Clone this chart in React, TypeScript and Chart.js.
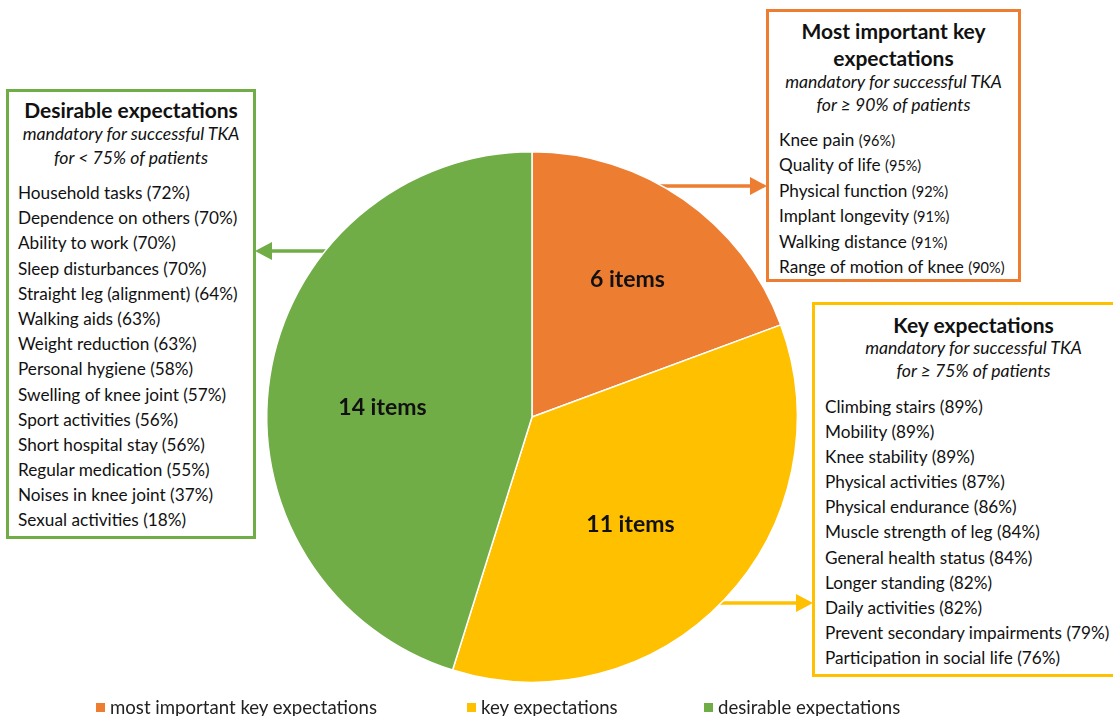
import React, { useEffect, useRef } from "react";
import { Chart, registerables } from "chart.js";

Chart.register(...registerables);

// ---------- data ----------
const categories = ["most important key expectations", "key expectations", "desirable expectations"];
const itemCounts = [6, 11, 14];
const sliceLabels = ["6 items", "11 items", "14 items"];
const sliceColors = ["#ED7D31", "#FFC000", "#70AD47"];

const mostImportantItems = ["Knee pain", "Quality of life", "Physical function", "Implant longevity", "Walking distance", "Range of motion of knee"];
const mostImportantPct = [96, 95, 92, 91, 91, 90];

const keyItems = ["Climbing stairs", "Mobility", "Knee stability", "Physical activities", "Physical endurance", "Muscle strength of leg", "General health status", "Longer standing", "Daily activities", "Prevent secondary impairments", "Participation in social life"];
const keyPct = [89, 89, 89, 87, 86, 84, 84, 82, 82, 79, 76];

const desirableItems = ["Household tasks", "Dependence on others ", "Ability to work", "Sleep disturbances ", "Straight leg (alignment)", "Walking aids", "Weight reduction", "Personal hygiene", "Swelling of knee joint", "Sport activities", "Short hospital stay", "Regular medication", "Noises in knee joint", "Sexual activities"];
const desirablePct = [72, 70, 70, 70, 64, 63, 63, 58, 57, 56, 56, 55, 37, 18];

// label placement (fraction of radius, angle tweak in degrees)
const labelRadiusFrac = [0.63, 0.55, 0.565];
const labelAngleShift = [0, 4, -5];

const FONT = "Lato, 'Open Sans', sans-serif";

const sliceLabelPlugin = {
  id: "sliceLabels",
  afterDatasetsDraw(chart: any) {
    const ctx = chart.ctx;
    const meta = chart.getDatasetMeta(0);
    ctx.save();
    ctx.font = `bold 23px ${FONT}`;
    ctx.fillStyle = "#111";
    ctx.textAlign = "center";
    ctx.textBaseline = "middle";
    meta.data.forEach((arc: any, i: number) => {
      const p = arc.getProps(["x", "y", "startAngle", "endAngle", "outerRadius"], true);
      const mid = (p.startAngle + p.endAngle) / 2 + (labelAngleShift[i] * Math.PI) / 180;
      const r = p.outerRadius * labelRadiusFrac[i];
      ctx.fillText(sliceLabels[i], p.x + Math.cos(mid) * r, p.y + Math.sin(mid) * r);
    });
    ctx.restore();
  },
};

type BoxProps = {
  left: number; top: number; width: number; height: number; color: string;
  title: string[]; sub: string[]; items: string[]; pct: number[];
  titleLH: number; subLH: number; gap: number; itemLH: number; padTop: number;
  padLeft: number; smallPct?: boolean; noRight?: boolean;
};

function Box(p: BoxProps) {
  return (
    <div
      style={{
        position: "absolute", left: p.left, top: p.top, width: p.width, height: p.height,
        boxSizing: "border-box", border: `3px solid ${p.color}`, borderRight: p.noRight ? "none" : `3px solid ${p.color}`,
        background: "#fff", fontFamily: FONT, color: "#111", paddingTop: p.padTop,
      }}
    >
      {p.title.map((t, i) => (
        <div key={"t" + i} style={{ textAlign: "center", fontWeight: "bold", fontSize: 21, lineHeight: p.titleLH + "px", whiteSpace: "nowrap" }}>{t}</div>
      ))}
      {p.sub.map((t, i) => (
        <div key={"s" + i} style={{ textAlign: "center", fontStyle: "italic", fontSize: 17.6, lineHeight: p.subLH + "px", whiteSpace: "nowrap" }}>{t}</div>
      ))}
      <div style={{ height: p.gap }} />
      {p.items.map((t, i) => (
        <div key={"i" + i} style={{ paddingLeft: p.padLeft, fontSize: 17.2, lineHeight: p.itemLH + "px", height: p.itemLH, whiteSpace: "nowrap" }}>
          {t}{" "}
          <span style={{ fontSize: p.smallPct ? 14.5 : 17.2, lineHeight: "1" }}>({p.pct[i]}%)</span>
        </div>
      ))}
    </div>
  );
}

export default function App() {
  const canvasRef = useRef<HTMLCanvasElement | null>(null);

  useEffect(() => {
    const c = canvasRef.current;
    if (!c) return;
    const chart = new Chart(c, {
      type: "pie",
      data: {
        labels: categories,
        datasets: [
          {
            data: itemCounts,
            backgroundColor: sliceColors,
            borderColor: "#ffffff",
            borderWidth: 1.5,
          },
        ],
      },
      options: {
        responsive: false,
        animation: false,
        devicePixelRatio: 1,
        layout: { padding: { left: 266, right: 315, top: 151, bottom: 33 } },
        plugins: { legend: { display: false }, tooltip: { enabled: false } },
      },
      plugins: [sliceLabelPlugin],
    });
    return () => chart.destroy();
  }, []);

  const arrowStroke = 3.5;

  return (
    <div style={{ position: "absolute", left: 0, top: 0, width: 1113, height: 716, overflow: "hidden", background: "#fff" }}>
      <svg width={1113} height={716} style={{ position: "absolute", left: 0, top: 0 }}>
        {/* green arrow (to left box) */}
        <line x1={340} y1={251} x2={268} y2={251} stroke="#70AD47" strokeWidth={arrowStroke} />
        <polygon points="255,251 272,242 272,260" fill="#70AD47" />
        {/* orange arrow */}
        <line x1={650} y1={186} x2={752} y2={186} stroke="#ED7D31" strokeWidth={arrowStroke} />
        <polygon points="767,186 750,177 750,195" fill="#ED7D31" />
        {/* yellow arrow */}
        <line x1={710} y1={603} x2={798} y2={603} stroke="#FFC000" strokeWidth={arrowStroke} />
        <polygon points="813,603 796,594 796,612" fill="#FFC000" />
      </svg>
      <canvas ref={canvasRef} width={1113} height={716} style={{ position: "absolute", left: 0, top: 0, width: 1113, height: 716 }} />

      <Box
        left={6} top={89} width={250} height={450} color="#70AD47"
        title={["Desirable expectations"]}
        sub={["mandatory for successful TKA", "for < 75% of patients"]}
        items={desirableItems} pct={desirablePct}
        titleLH={24} subLH={24} gap={10} itemLH={25.2} padTop={6} padLeft={9}
      />
      <Box
        left={766} top={9} width={255} height={273} color="#ED7D31"
        title={["Most important key", "expectations"]}
        sub={["mandatory for successful TKA", "for \u2265 90% of patients"]}
        items={mostImportantItems} pct={mostImportantPct}
        titleLH={27} subLH={22.5} gap={11} itemLH={25.4} padTop={5} padLeft={10} smallPct
      />
      <Box
        left={812} top={302} width={320} height={375} color="#FFC000"
        title={["Key expectations"]}
        sub={["mandatory for successful TKA", "for \u2265 75% of patients"]}
        items={keyItems} pct={keyPct}
        titleLH={24} subLH={22.5} gap={12} itemLH={25.1} padTop={8} padLeft={10} noRight
      />

      {categories.map((c, i) => {
        const lefts = [96, 467, 704];
        return (
          <div key={c} style={{ position: "absolute", left: lefts[i], top: 695, height: 24, display: "flex", alignItems: "center", fontFamily: FONT, fontSize: 18.6, color: "#222", whiteSpace: "nowrap" }}>
            <span style={{ display: "inline-block", width: 9, height: 9, background: sliceColors[i], marginRight: 5 }} />
            {c}
          </div>
        );
      })}
    </div>
  );
}
